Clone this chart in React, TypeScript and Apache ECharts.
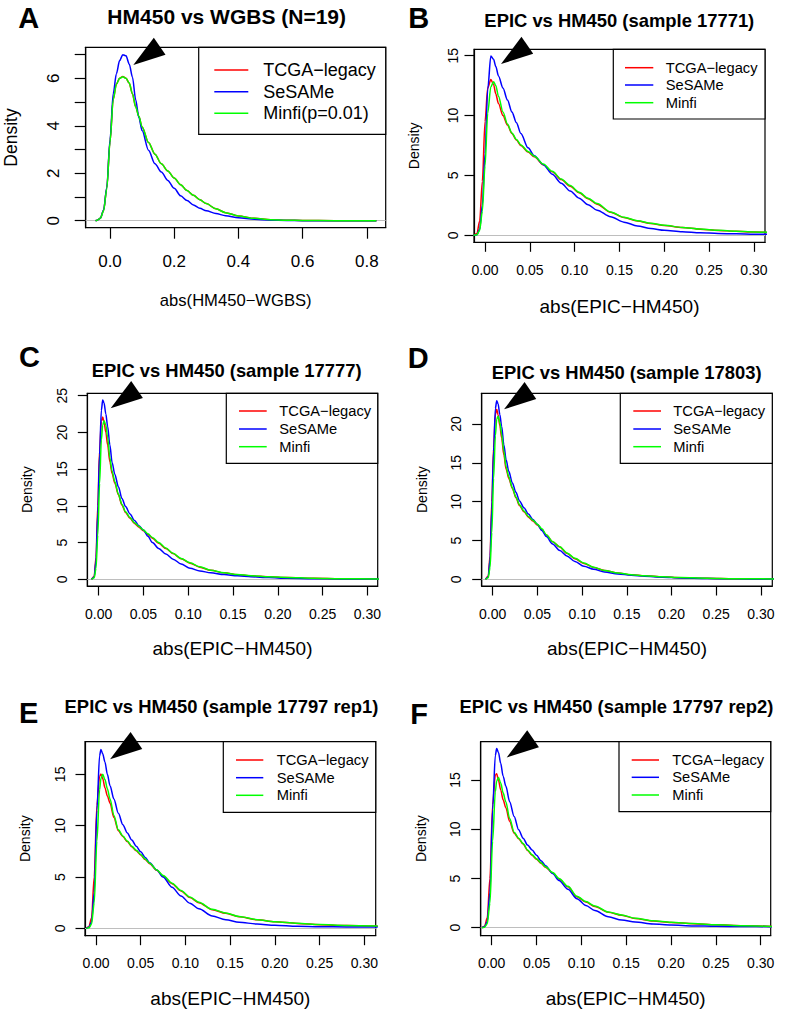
import React, { useEffect, useRef } from "react";
import * as echarts from "echarts";

const FONT = '"Liberation Sans", Arial, Helvetica, sans-serif';

// ---------- data ----------
const seriesNames = ["TCGA\u2212legacy", "SeSAMe", "Minfi"];
const seriesNamesA = ["TCGA\u2212legacy", "SeSAMe", "Minfi(p=0.01)"];
const seriesColors = ["#FF0000", "#0000FF", "#00FF00"];

const titles = [
  "HM450 vs WGBS (N=19)",
  "EPIC vs HM450 (sample 17771)",
  "EPIC vs HM450 (sample 17777)",
  "EPIC vs HM450 (sample 17803)",
  "EPIC vs HM450 (sample 17797 rep1)",
  "EPIC vs HM450 (sample 17797 rep2)",
];
const panelLetters = ["A", "B", "C", "D", "E", "F"];
const xAxisNames = [
  "abs(HM450\u2212WGBS)",
  "abs(EPIC\u2212HM450)",
  "abs(EPIC\u2212HM450)",
  "abs(EPIC\u2212HM450)",
  "abs(EPIC\u2212HM450)",
  "abs(EPIC\u2212HM450)",
];

const xTicksA = [0, 0.2, 0.4, 0.6, 0.8];
const xTicksEpic = [0, 0.05, 0.1, 0.15, 0.2, 0.25, 0.3];
const yTicksA = [0, 1, 2, 3, 4, 5, 6, 7];
const yLabelsA = [0, 2, 4, 6];
const yTicks15 = [0, 5, 10, 15];
const yTicks20 = [0, 5, 10, 15, 20];
const yTicks25 = [0, 5, 10, 15, 20, 25];

// arrow tips (data coordinates of each panel)
const arrowTips = [
  [0.0726, 6.56],
  [0.0178, 14.3],
  [0.0134, 23.27],
  [0.0127, 21.89],
  [0.0157, 16.46],
  [0.0167, 17.3],
];

// Panel A
const xA = [-0.045, -0.04, -0.03, -0.02, -0.01, 0, 0.01, 0.02, 0.03, 0.04, 0.05, 0.06, 0.07, 0.08, 0.09, 0.1, 0.12, 0.14, 0.16, 0.18, 0.2, 0.22, 0.24, 0.26, 0.28, 0.3, 0.33, 0.36, 0.4, 0.45, 0.5, 0.55, 0.6, 0.7, 0.83];
const tcgaA = [0, 0.02, 0.1, 0.43, 1.37, 3.32, 5.12, 5.76, 6.01, 6.08, 6.0, 5.79, 5.34, 4.8, 4.39, 3.95, 3.3, 2.8, 2.4, 2.1, 1.8, 1.52, 1.27, 1.07, 0.88, 0.72, 0.5, 0.34, 0.2, 0.1, 0.045, 0.02, 0.008, 0.002, 0];
const sesameA = [0, 0.02, 0.1, 0.45, 1.4, 3.4, 5.35, 6.2, 6.75, 7.0, 6.95, 6.6, 6.05, 5.1, 4.35, 3.8, 2.97, 2.4, 2.05, 1.7, 1.37, 1.05, 0.85, 0.66, 0.52, 0.42, 0.3, 0.21, 0.12, 0.06, 0.02, 0.008, 0.003, 0.001, 0];
const minfiA = [0, 0.02, 0.1, 0.42, 1.35, 3.3, 5.1, 5.75, 6.0, 6.07, 6.0, 5.8, 5.35, 4.8, 4.4, 3.95, 3.3, 2.8, 2.4, 2.1, 1.8, 1.52, 1.27, 1.07, 0.88, 0.72, 0.5, 0.34, 0.2, 0.1, 0.045, 0.02, 0.008, 0.002, 0];

// Panel B
const xB = [-0.013, -0.009, -0.006, -0.003, 0, 0.003, 0.0065, 0.0095, 0.012, 0.015, 0.02, 0.025, 0.03, 0.035, 0.04, 0.048, 0.055, 0.065, 0.075, 0.085, 0.095, 0.105, 0.115, 0.125, 0.14, 0.155, 0.17, 0.185, 0.2, 0.22, 0.24, 0.26, 0.28, 0.3, 0.315];
const tcgaB = [0, 0.15, 1.2, 4.5, 9.5, 12.3, 13.0, 12.6, 11.8, 11.0, 10.0, 9.2, 8.5, 7.95, 7.5, 6.95, 6.55, 5.9, 5.3, 4.65, 4.1, 3.55, 3.05, 2.6, 1.92, 1.48, 1.2, 0.98, 0.82, 0.65, 0.51, 0.41, 0.33, 0.27, 0.24];
const sesameB = [0, 0.05, 0.5, 2.5, 6.8, 12.2, 14.97, 14.7, 14.1, 13.3, 12.3, 11.3, 10.3, 9.4, 8.5, 7.3, 6.65, 5.9, 5.1, 4.35, 3.7, 3.1, 2.55, 2.1, 1.55, 1.1, 0.78, 0.56, 0.42, 0.3, 0.21, 0.16, 0.12, 0.09, 0.08];
const minfiB = [0, 0.05, 0.4, 2.0, 5.8, 10.2, 12.4, 12.83, 12.5, 11.6, 10.3, 9.3, 8.55, 8.0, 7.55, 7.0, 6.6, 5.95, 5.35, 4.7, 4.15, 3.6, 3.1, 2.65, 1.95, 1.5, 1.22, 1.0, 0.83, 0.66, 0.52, 0.42, 0.34, 0.28, 0.25];

// Panels C and D
const xCD = [-0.008, -0.005, -0.003, -0.001, 0.001, 0.003, 0.0045, 0.006, 0.008, 0.01, 0.0125, 0.015, 0.018, 0.022, 0.026, 0.03, 0.035, 0.04, 0.045, 0.05, 0.055, 0.06, 0.067, 0.075, 0.083, 0.092, 0.102, 0.113, 0.125, 0.14, 0.155, 0.17, 0.19, 0.21, 0.24, 0.27, 0.315];
const tcgaC = [0, 0.4, 3, 10, 17.5, 21.5, 22.1, 21.4, 20.0, 18.3, 16.0, 14.4, 13.1, 11.5, 10.1, 9.1, 8.3, 7.6, 7.1, 6.6, 6.1, 5.6, 4.9, 4.2, 3.5, 2.8, 2.2, 1.65, 1.22, 0.88, 0.63, 0.48, 0.35, 0.25, 0.14, 0.09, 0.05];
const sesameC = [0, 0.3, 2.5, 9, 17, 23, 24.4, 24.0, 22.5, 20.8, 18.3, 15.9, 14.3, 12.6, 11.0, 9.9, 8.9, 8.0, 7.3, 6.7, 5.85, 5.0, 4.2, 3.45, 2.75, 2.1, 1.5, 1.15, 0.88, 0.65, 0.48, 0.36, 0.24, 0.14, 0.09, 0.06, 0.04];
const minfiC = [0, 0.2, 1.5, 6, 13, 19, 21.0, 21.6, 21.0, 19.3, 16.5, 14.7, 13.3, 11.6, 10.2, 9.2, 8.4, 7.7, 7.2, 6.7, 6.2, 5.7, 5.0, 4.25, 3.54, 2.85, 2.25, 1.7, 1.25, 0.9, 0.65, 0.5, 0.36, 0.26, 0.15, 0.09, 0.05];
const tcgaD = [0, 0.4, 3, 10, 17, 21.2, 21.9, 21.2, 19.8, 18.2, 16.0, 14.2, 13.0, 11.7, 10.5, 9.5, 8.7, 8.0, 7.5, 7.0, 6.4, 5.7, 4.85, 4.15, 3.35, 2.65, 2.05, 1.52, 1.13, 0.8, 0.58, 0.45, 0.32, 0.22, 0.14, 0.08, 0.05];
const sesameD = [0, 0.3, 2.5, 9, 16.5, 22, 23.0, 22.6, 21.2, 19.7, 17.3, 15.4, 13.9, 12.4, 11.2, 10.1, 9.2, 8.4, 7.7, 7.1, 6.3, 5.5, 4.55, 3.7, 3.0, 2.3, 1.68, 1.3, 0.95, 0.7, 0.52, 0.4, 0.28, 0.17, 0.1, 0.06, 0.04];
const minfiD = [0, 0.2, 1.5, 6, 13, 18.5, 20.6, 21.0, 20.2, 18.7, 16.5, 14.5, 13.2, 11.8, 10.6, 9.6, 8.8, 8.1, 7.6, 7.1, 6.5, 5.75, 4.85, 4.2, 3.4, 2.7, 2.1, 1.55, 1.15, 0.82, 0.6, 0.46, 0.33, 0.23, 0.15, 0.09, 0.05];

// Panels E and F
const xEF = [-0.011, -0.008, -0.005, -0.002, 0.001, 0.004, 0.0055, 0.0075, 0.01, 0.0127, 0.0157, 0.02, 0.025, 0.03, 0.035, 0.04, 0.045, 0.05, 0.055, 0.06, 0.068, 0.075, 0.085, 0.095, 0.105, 0.115, 0.13, 0.145, 0.16, 0.18, 0.2, 0.225, 0.25, 0.28, 0.315];
const tcgaE = [0, 0.15, 1.0, 5, 12, 14.8, 15.03, 14.6, 13.7, 12.9, 12.2, 10.8, 9.5, 8.95, 8.45, 7.95, 7.55, 7.15, 6.7, 6.3, 5.65, 5.1, 4.35, 3.65, 3.0, 2.5, 1.82, 1.47, 1.13, 0.84, 0.64, 0.48, 0.36, 0.27, 0.21];
const sesameE = [0, 0.1, 0.6, 3.5, 11.5, 16.8, 17.43, 17.0, 16.2, 15.0, 13.9, 12.6, 11.2, 10.1, 9.3, 8.6, 8.0, 7.45, 6.9, 6.4, 5.68, 5.0, 4.0, 3.15, 2.45, 1.9, 1.2, 0.85, 0.6, 0.42, 0.3, 0.2, 0.16, 0.14, 0.13];
const minfiE = [0, 0.05, 0.4, 2.5, 8.5, 13.5, 14.6, 15.0, 14.5, 13.6, 12.6, 11.0, 9.6, 9.0, 8.5, 8.0, 7.6, 7.2, 6.75, 6.35, 5.68, 5.15, 4.4, 3.7, 3.05, 2.55, 1.85, 1.5, 1.15, 0.85, 0.65, 0.49, 0.37, 0.28, 0.22];
const tcgaF = [0, 0.15, 1.0, 5, 12.5, 15.5, 15.65, 15.0, 14.0, 13.0, 12.2, 10.8, 9.6, 9.05, 8.5, 7.85, 7.35, 6.95, 6.55, 6.15, 5.55, 4.95, 4.15, 3.15, 2.6, 2.15, 1.57, 1.27, 0.93, 0.68, 0.54, 0.41, 0.29, 0.2, 0.12];
const sesameF = [0, 0.1, 0.6, 3.6, 12, 17.5, 18.2, 17.8, 16.7, 15.4, 14.4, 12.8, 11.3, 9.95, 9.1, 8.4, 7.9, 7.35, 6.8, 6.3, 5.5, 4.8, 3.9, 2.95, 2.25, 1.75, 1.1, 0.78, 0.57, 0.38, 0.28, 0.18, 0.14, 0.12, 0.1];
const minfiF = [0, 0.05, 0.4, 2.5, 8.8, 13.8, 14.9, 15.27, 14.7, 13.7, 12.8, 11.1, 9.7, 9.1, 8.55, 7.9, 7.4, 7.0, 6.6, 6.2, 5.6, 5.0, 4.2, 3.2, 2.65, 2.2, 1.6, 1.3, 0.95, 0.7, 0.55, 0.42, 0.3, 0.2, 0.12];

const panelData = [
  { xs: xA, ys: [tcgaA, sesameA, minfiA], names: seriesNamesA, xTicks: xTicksA, yTicks: yTicksA, yLabels: yLabelsA, dec: 1 },
  { xs: xB, ys: [tcgaB, sesameB, minfiB], names: seriesNames, xTicks: xTicksEpic, yTicks: yTicks15, yLabels: yTicks15, dec: 2 },
  { xs: xCD, ys: [tcgaC, sesameC, minfiC], names: seriesNames, xTicks: xTicksEpic, yTicks: yTicks25, yLabels: yTicks25, dec: 2 },
  { xs: xCD, ys: [tcgaD, sesameD, minfiD], names: seriesNames, xTicks: xTicksEpic, yTicks: yTicks20, yLabels: yTicks20, dec: 2 },
  { xs: xEF, ys: [tcgaE, sesameE, minfiE], names: seriesNames, xTicks: xTicksEpic, yTicks: yTicks15, yLabels: yTicks15, dec: 2 },
  { xs: xEF, ys: [tcgaF, sesameF, minfiF], names: seriesNames, xTicks: xTicksEpic, yTicks: yTicks15, yLabels: yTicks15, dec: 2 },
];

// ---------- layout (positions, sizes, styles) ----------
const layouts = [
  {
    grid: [85.7, 47.3, 300, 180.4], xRange: [-0.0757, 0.859], yRange: [-0.295, 7.31],
    tickFont: 17, tickLen: 11, xLabelMargin: 25, yLabelMargin: 24, yNameFont: 17.5, yNameGap: 66,
    xNameFont: 16.6, xNameGap: 64, titleXY: [226.7, 16.7], titleFont: 21, letterXY: [28.8, 17.8],
    legend: { box: [198.7, 47.3, 385.7, 134.3], line: [214.3, 248.3], textX: 263.3, rows: [70, 91.7, 113.3], font: 18 },
  },
  {
    grid: [474, 49.3, 291, 193], xRange: [-0.0123, 0.3123], yRange: [-0.584, 15.53],
    tickFont: 14, tickLen: 9.5, xLabelMargin: 20.5, yLabelMargin: 14, yNameFont: 14, yNameGap: 53,
    xNameFont: 19, xNameGap: 54.5, titleXY: [619.3, 20], titleFont: 18.4, letterXY: [418.7, 18.3],
    legend: { box: [613.3, 49.3, 765, 119], line: [625, 653.3], textX: 665.7, rows: [67.7, 85, 102.7], font: 14.7 },
  },
  {
    grid: [87.3, 393.3, 290.4, 192.7], xRange: [-0.0127, 0.3115], yRange: [-0.907, 25.32],
    tickFont: 14, tickLen: 9.5, xLabelMargin: 20.5, yLabelMargin: 18.8, yNameFont: 14, yNameGap: 53,
    xNameFont: 19, xNameGap: 53, titleXY: [226.7, 370], titleFont: 18.4, letterXY: [29.5, 357.3],
    legend: { box: [226.3, 393.3, 377.7, 463.3], line: [239, 266.7], textX: 279.3, rows: [411, 429, 446.7], font: 14.7 },
  },
  {
    grid: [481.7, 393.3, 290.6, 192.7], xRange: [-0.0123, 0.3127], yRange: [-0.858, 23.95],
    tickFont: 14, tickLen: 9.5, xLabelMargin: 20.5, yLabelMargin: 19.2, yNameFont: 14, yNameGap: 53,
    xNameFont: 19, xNameGap: 53, titleXY: [626.7, 372.2], titleFont: 18.4, letterXY: [418.3, 357.5],
    legend: { box: [620.3, 393.3, 772.3, 463.3], line: [633.3, 661], textX: 673.3, rows: [411, 429, 446.7], font: 14.7 },
  },
  {
    grid: [85, 741.7, 290.7, 194], xRange: [-0.0123, 0.3127], yRange: [-0.714, 18.18],
    tickFont: 14, tickLen: 9.5, xLabelMargin: 20.5, yLabelMargin: 18.2, yNameFont: 14, yNameGap: 53,
    xNameFont: 19, xNameGap: 53, titleXY: [221.5, 706.7], titleFont: 18.4, letterXY: [28.7, 713],
    legend: { box: [223.3, 741.7, 375.7, 812.3], line: [236, 263.3], textX: 276.7, rows: [760, 777.7, 795.3], font: 14.7 },
  },
  {
    grid: [480.7, 741.7, 290, 194], xRange: [-0.0123, 0.3111], yRange: [-0.813, 18.9],
    tickFont: 14, tickLen: 9.5, xLabelMargin: 20.5, yLabelMargin: 18.4, yNameFont: 14, yNameGap: 53,
    xNameFont: 19, xNameGap: 53, titleXY: [616.5, 706.7], titleFont: 18.4, letterXY: [419.2, 714.2],
    legend: { box: [619, 741.7, 770.7, 811.7], line: [631.7, 659], textX: 672.3, rows: [760, 777.3, 795], font: 14.7 },
  },
];

export default function App() {
  const ref = useRef<HTMLDivElement>(null);

  useEffect(() => {
    if (!ref.current) return;
    const chart = echarts.init(ref.current, null, { renderer: "svg" });

    const grids: any[] = [];
    const xAxes: any[] = [];
    const yAxes: any[] = [];
    const series: any[] = [];

    panelData.forEach((p, i) => {
      const L = layouts[i];
      grids.push({
        left: L.grid[0], top: L.grid[1], width: L.grid[2], height: L.grid[3],
        show: true, borderColor: "#000", borderWidth: 1.2, backgroundColor: "transparent",
      });
      xAxes.push({
        type: "value", gridIndex: i, min: L.xRange[0], max: L.xRange[1], position: "bottom",
        name: xAxisNames[i], nameLocation: "middle", nameGap: L.xNameGap,
        nameTextStyle: { fontSize: L.xNameFont, color: "#000", fontFamily: FONT },
        axisLine: { show: true, onZero: false, lineStyle: { color: "#000", width: 1.2 } },
        axisTick: { show: true, inside: false, length: L.tickLen, customValues: p.xTicks, lineStyle: { color: "#000", width: 1.2 } },
        axisLabel: {
          show: true, customValues: p.xTicks, fontSize: L.tickFont, color: "#000", fontFamily: FONT, margin: L.xLabelMargin,
          formatter: (v: number) => Number(v).toFixed(p.dec),
        },
        splitLine: { show: false },
      });
      yAxes.push({
        type: "value", gridIndex: i, min: L.yRange[0], max: L.yRange[1], position: "left",
        name: "Density", nameLocation: "middle", nameGap: L.yNameGap, nameRotate: 90,
        nameTextStyle: { fontSize: L.yNameFont, color: "#000", fontFamily: FONT },
        axisLine: { show: true, onZero: false, lineStyle: { color: "#000", width: 1.2 } },
        axisTick: { show: true, inside: false, length: L.tickLen, customValues: p.yTicks, lineStyle: { color: "#000", width: 1.2 } },
        axisLabel: {
          show: true, customValues: p.yLabels, fontSize: L.tickFont, color: "#000", fontFamily: FONT, margin: L.yLabelMargin,
          rotate: 90, formatter: (v: number) => String(Math.round(v)),
        },
        splitLine: { show: false },
      });
      p.ys.forEach((ys, k) => {
        const s: any = {
          type: "line", name: p.names[k], xAxisIndex: i, yAxisIndex: i,
          data: p.xs.map((x, j) => [x, ys[j]]),
          showSymbol: false, symbol: "none", smooth: 0.3, smoothMonotone: "x",
          lineStyle: { color: seriesColors[k], width: 1.5 },
          itemStyle: { color: seriesColors[k] },
          clip: true, silent: true, z: 3 + k,
        };
        if (k === 0) {
          s.markLine = {
            silent: true, symbol: ["none", "none"], label: { show: false },
            lineStyle: { color: "#BEBEBE", type: "solid", width: 1 },
            data: [{ yAxis: 0 }], z: 2,
          };
        }
        series.push(s);
      });
    });

    chart.setOption({
      animation: false,
      backgroundColor: "#fff",
      textStyle: { fontFamily: FONT },
      grid: grids,
      xAxis: xAxes,
      yAxis: yAxes,
      series,
    });

    const toPx = (i: number, pt: number[]) =>
      chart.convertToPixel({ gridIndex: i } as any, pt) as unknown as number[];

    const graphics: any[] = [];
    layouts.forEach((L, i) => {
      const p = panelData[i];
      graphics.push({
        type: "text", x: L.titleXY[0], y: L.titleXY[1], z: 50,
        style: { text: titles[i], fontSize: L.titleFont, fontWeight: "bold", fontFamily: FONT, fill: "#000", align: "center", verticalAlign: "middle" },
      });
      graphics.push({
        type: "text", x: L.letterXY[0], y: L.letterXY[1], z: 50,
        style: { text: panelLetters[i], fontSize: 29, fontWeight: "bold", fontFamily: FONT, fill: "#000", align: "center", verticalAlign: "middle" },
      });
      const b = L.legend.box;
      graphics.push({
        type: "rect", z: 40, shape: { x: b[0], y: b[1], width: b[2] - b[0], height: b[3] - b[1] },
        style: { fill: "#fff", stroke: "#000", lineWidth: 1.2 },
      });
      p.names.forEach((nm, k) => {
        const yy = L.legend.rows[k];
        graphics.push({
          type: "line", z: 41, shape: { x1: L.legend.line[0], y1: yy, x2: L.legend.line[1], y2: yy },
          style: { stroke: seriesColors[k], lineWidth: 1.5 },
        });
        graphics.push({
          type: "text", z: 41, x: L.legend.textX, y: yy,
          style: { text: nm, fontSize: L.legend.font, fontFamily: FONT, fill: "#000", align: "left", verticalAlign: "middle" },
        });
      });
      const tip = toPx(i, arrowTips[i]);
      if (tip && isFinite(tip[0])) {
        graphics.push({
          type: "polygon", z: 45,
          shape: { points: [[tip[0], tip[1]], [tip[0] + 20.5, tip[1] - 27.3], [tip[0] + 32.2, tip[1] - 10.3]] },
          style: { fill: "#000" },
        });
      }
    });
    chart.setOption({ graphic: graphics });

    return () => chart.dispose();
  }, []);

  return (
    <div
      ref={ref}
      style={{ position: "absolute", left: 0, top: 0, width: 793, height: 1021, background: "#fff" }}
    />
  );
}
